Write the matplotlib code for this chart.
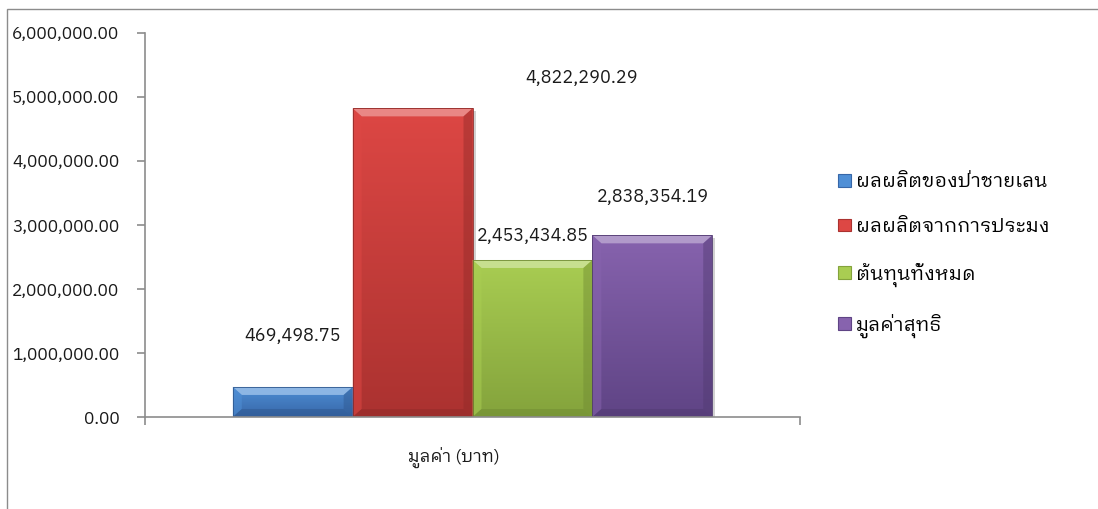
import matplotlib
matplotlib.use("Agg")
import matplotlib.pyplot as plt
import numpy as np
from matplotlib.patches import Patch, Polygon, Rectangle
from matplotlib.colors import LinearSegmentedColormap, to_rgb
from matplotlib.ticker import FuncFormatter, FixedLocator

plt.rcParams['font.family'] = ['IBM Plex Sans Thai Looped', 'DejaVu Sans']

# data
category = 'มูลค่า (บาท)'
series = ['ผลผลิตของป่าชายเลน', 'ผลผลิตจากการประมง', 'ต้นทุนทั้งหมด', 'มูลค่าสุทธิ']
values = [469498.75, 4822290.29, 2453434.85, 2838354.19]
top_colors = ['#4f8fd6', '#dd4744', '#a9cd52', '#8763ae']
bottom_colors = ['#3767a8', '#ab3230', '#84a33c', '#5f4485']
# label offsets in pixels from the top of each bar
label_offsets = [(0, 51), (169, 30), (0, 24), (0, 38)]

fig = plt.figure(figsize=(10.98, 5.09), dpi=100)
ax = fig.add_axes([145 / 1098, 92 / 509, 655 / 1098, 384 / 509])

# outer chart frame
fig.patches.append(Rectangle((7 / 1098, -0.05), 1.1, (509 - 9) / 509 + 0.05,
                             transform=fig.transFigure, fill=False,
                             edgecolor='#8c8c8c', linewidth=1.0))

width = 0.183
x = (np.arange(len(values)) - 1.5) * width
ax.set_xlim(-0.5, 0.5)
ax.set_ylim(0, 6000000)

bars = ax.bar(x, values, width=width, color=top_colors, linewidth=0, zorder=2)

def px_to_data(dx, dy):
    inv = ax.transData.inverted()
    p0 = inv.transform((0, 0))
    p1 = inv.transform((dx, dy))
    return p1[0] - p0[0], p1[1] - p0[1]

for bar, c_top, c_bot in zip(bars, top_colors, bottom_colors):
    x0, y0 = bar.get_x(), bar.get_y()
    w, h = bar.get_width(), bar.get_height()
    # soft shadow below and right of the bar
    sdx, sdy = px_to_data(3, -3)
    ax.add_patch(Rectangle((x0 + sdx, y0 + sdy), w, h, color='#000000', alpha=0.18,
                           linewidth=0, zorder=1))
    # vertical gradient fill
    cmap = LinearSegmentedColormap.from_list('g', [c_bot, c_top])
    grad = np.linspace(0, 1, 256).reshape(-1, 1)
    im = ax.imshow(grad, cmap=cmap, origin='lower', aspect='auto',
                   extent=(x0, x0 + w, y0, y0 + h), zorder=2.1)
    im.set_clip_path(bar)
    # bevelled edges
    bx, by = px_to_data(9, 8)
    by = min(by, h / 2.2)
    bx = min(bx, w / 2.2)
    ct = np.array(to_rgb(c_top))
    light = np.clip(ct + (1 - ct) * 0.35, 0, 1)
    dark = np.array(to_rgb(c_bot)) * 0.85
    top = Polygon([(x0, y0 + h), (x0 + w, y0 + h), (x0 + w - bx, y0 + h - by), (x0 + bx, y0 + h - by)],
                  closed=True, color=light, linewidth=0, zorder=2.2)
    left = Polygon([(x0, y0), (x0, y0 + h), (x0 + bx, y0 + h - by), (x0 + bx, y0 + by)],
                   closed=True, color=ct, alpha=0.55, linewidth=0, zorder=2.2)
    right = Polygon([(x0 + w, y0), (x0 + w, y0 + h), (x0 + w - bx, y0 + h - by), (x0 + w - bx, y0 + by)],
                    closed=True, color=dark, alpha=0.45, linewidth=0, zorder=2.2)
    bottom = Polygon([(x0, y0), (x0 + w, y0), (x0 + w - bx, y0 + by), (x0 + bx, y0 + by)],
                     closed=True, color=dark, alpha=0.5, linewidth=0, zorder=2.2)
    for p in (top, left, right, bottom):
        ax.add_patch(p)
    ax.add_patch(Rectangle((x0, y0), w, h, fill=False, edgecolor=dark, linewidth=0.6, zorder=2.3))

# value labels
for bar, val, (ox, oy) in zip(bars, values, label_offsets):
    ax.annotate(f'{val:,.2f}', (bar.get_x() + bar.get_width() / 2, val),
                xytext=(ox, oy), textcoords='offset pixels',
                ha='center', va='center', fontsize=13, color='#1a1a1a')

# axes styling
for side in ('top', 'right'):
    ax.spines[side].set_visible(False)
for side in ('left', 'bottom'):
    ax.spines[side].set_color('#8c8c8c')
    ax.spines[side].set_linewidth(1.2)

ax.yaxis.set_major_locator(FixedLocator(np.arange(0, 6000001, 1000000)))
ax.yaxis.set_major_formatter(FuncFormatter(lambda v, p: f'{v:,.2f}'))
ax.tick_params(axis='y', direction='out', length=6, width=1.2, color='#8c8c8c',
               pad=12.5, labelsize=12.5, labelcolor='#1a1a1a')

ax.set_xticks([-0.5, 0.5])
ax.set_xticklabels(['', ''])
ax.tick_params(axis='x', which='major', direction='out', length=6, width=1.2, color='#8c8c8c')

# category label sits a little left of the axis centre
ax.annotate(category, (0, 0), xytext=(-19, -40), textcoords='offset pixels',
            ha='center', va='center', fontsize=12.5, color='#1a1a1a')

# legend
handles = [Patch(facecolor=c, edgecolor=d, linewidth=0.8) for c, d in zip(top_colors, bottom_colors)]
fig.legend(handles, series, loc='upper left', bbox_to_anchor=(838 / 1098, 1 - 173 / 509),
           frameon=False, fontsize=14, handlelength=0.65, handleheight=0.65,
           handletextpad=0.25, labelspacing=1.38, borderpad=0, borderaxespad=0)

fig.savefig('out.png', dpi=100)
